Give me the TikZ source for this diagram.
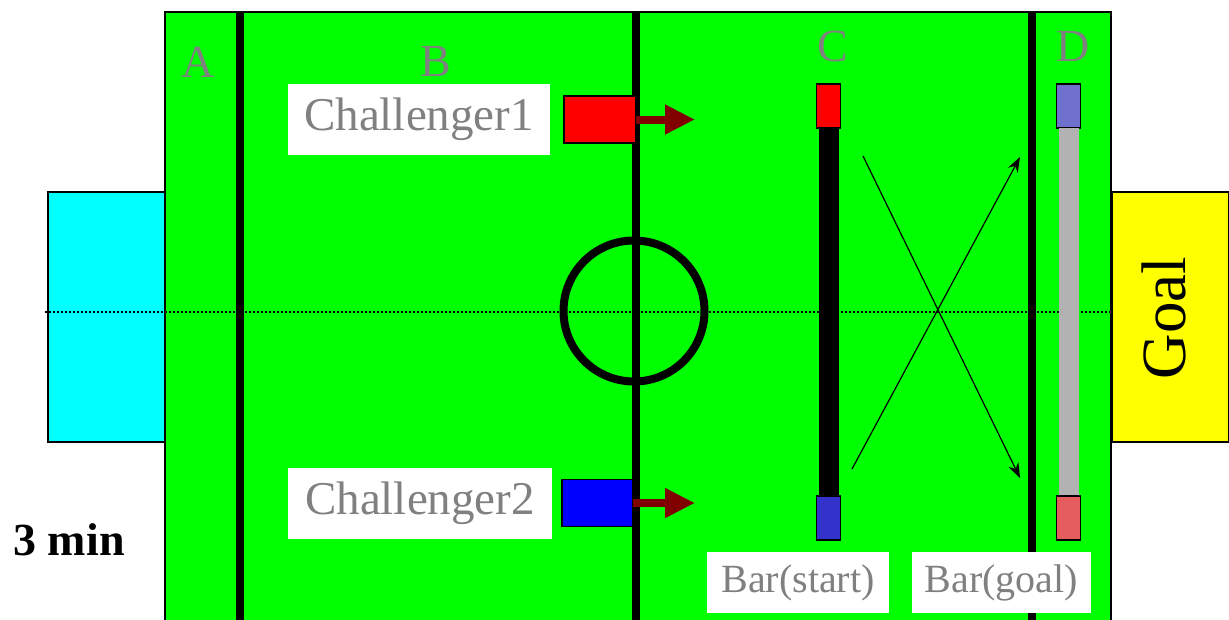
\documentclass[tikz,border=0pt]{standalone}
\usepackage{fontspec}
\setmainfont{Liberation Serif}
\usetikzlibrary{arrows.meta,positioning}
\definecolor{fieldgreen}{RGB}{0,255,0}
\definecolor{keepercyan}{RGB}{0,255,255}
\definecolor{goalyellow}{RGB}{255,255,0}
\definecolor{labelgray}{RGB}{128,128,128}
\definecolor{pushred}{RGB}{128,0,0}
\definecolor{barblue}{RGB}{51,51,204}
\definecolor{checkblue}{RGB}{112,112,205}
\definecolor{checkred}{RGB}{228,92,92}
\definecolor{bargray}{RGB}{178,178,178}
\begin{document}
\begin{tikzpicture}[x=1pt,y=-1pt,every node/.style={inner sep=0pt,outer sep=0pt},
  zone/.style={text=labelgray,font=\fontsize{46}{50}\selectfont},
  namebox/.style={fill=white,text=labelgray,font=\fontsize{47}{50}\selectfont,minimum height=71pt},
  barbox/.style={fill=white,text=labelgray,font=\fontsize{40}{44}\selectfont,minimum height=61pt},
  robot/.style={draw=black,line width=1.5pt,minimum width=72pt,minimum height=47pt},
  pad/.style={draw=black,line width=1.5pt,minimum width=24pt,minimum height=44pt},
  push/.style={pushred,line width=8pt,-{Triangle[length=30pt,width=28pt]}},
  pass/.style={line width=1.2pt,-{Stealth[length=15pt,width=11pt]}}]
\useasboundingbox (0,0) rectangle (1229,619);
% field and the two ends
\filldraw[fill=fieldgreen,draw=black,line width=2pt] (165,12) rectangle (1111,630);
\filldraw[fill=keepercyan,draw=black,line width=2pt] (48,192) rectangle (165,442);
\filldraw[fill=goalyellow,draw=black,line width=2pt] (1112,192) rectangle (1229,442);
\node[rotate=90,font=\fontsize{63}{66}\selectfont] (goal) at (1164,318) {Goal};
\draw[line width=1.5pt,dash pattern=on 1.5pt off 2.5pt] (45,312) -- (1111,312);
% zone lines and centre circle
\draw[line width=8pt] (240,12) -- (240,630);
\draw[line width=8pt] (636,12) -- (636,630);
\draw[line width=8pt] (1032,12) -- (1032,630);
\draw[line width=8pt] (634,311) circle (70.5pt);
\node[zone] (zoneA) at (198,62) {A};
\node[zone] (zoneB) at (436,62) {B};
\node[zone] (zoneC) at (833,46) {C};
\node[zone] (zoneD) at (1073,46) {D};
% challengers
\node[namebox,minimum width=262pt] (ch1) at (419,119.5) {Challenger1};
\node[namebox,minimum width=264pt] (ch2) at (420,503) {Challenger2};
\node[robot,fill=red,right=14pt of ch1] (robot1) {};
\node[robot,fill=blue,minimum width=71pt,right=10pt of ch2] (robot2) {};
\coordinate[right=59pt of robot1.east] (tip1);
\coordinate[right=62pt of robot2.east] (tip2);
\draw[push] (robot1.east) -- (tip1);
\draw[push] (robot2.east) -- (tip2);
% bars
\node[pad,fill=red] (startTop) at (828.5,106) {};
\node[fill=black,minimum width=20pt,minimum height=368pt,below=0pt of startTop] (startBar) {};
\node[pad,fill=barblue,below=0pt of startBar] (startBot) {};
\node[pad,fill=checkblue] (goalTop) at (1068.5,106) {};
\node[fill=bargray,minimum width=20pt,minimum height=368pt,below=0pt of goalTop] (goalBar) {};
\node[pad,fill=checkred,below=0pt of goalBar] (goalBot) {};
\node[barbox,minimum width=182pt] (startLbl) at (798,582.5) {Bar(start)};
\node[barbox,minimum width=179pt] (goalLbl) at (1001.5,582.5) {Bar(goal)};
% bar moves
\coordinate (fromTop) at (863,156);
\coordinate (toBot) at (1020,478);
\coordinate (fromBot) at (852,469);
\coordinate (toTop) at (1020,157);
\draw[pass] (fromTop) -- (toBot);
\draw[pass] (fromBot) -- (toTop);
\node[font=\bfseries\fontsize{46}{50}\selectfont] (time) at (69,540) {3 min};
\end{tikzpicture}
\end{document}
